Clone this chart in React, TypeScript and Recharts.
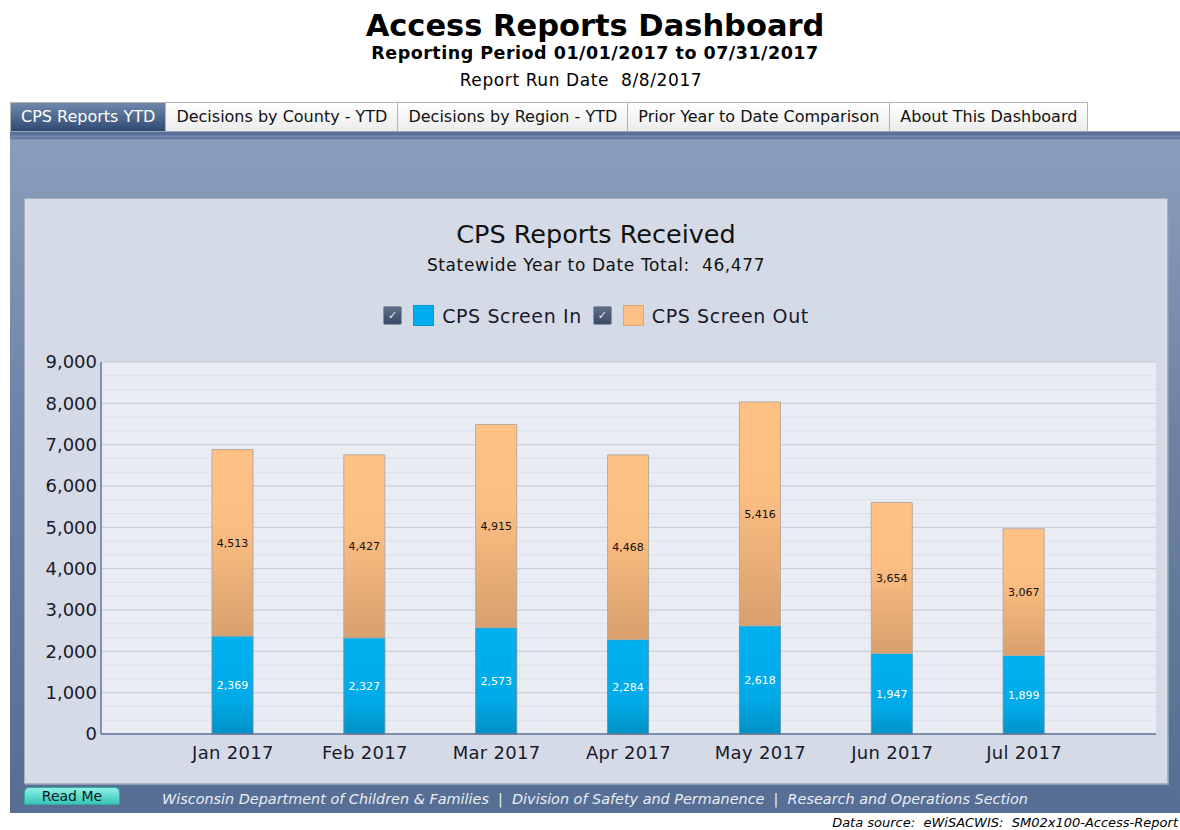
import React from "react";
import { BarChart, Bar, XAxis, YAxis, CartesianGrid, LabelList } from "recharts";

const months = ["Jan 2017", "Feb 2017", "Mar 2017", "Apr 2017", "May 2017", "Jun 2017", "Jul 2017"];
const screenIn = [2369, 2327, 2573, 2284, 2618, 1947, 1899];
const screenOut = [4513, 4427, 4915, 4468, 5416, 3654, 3067];
const yTicks = [0, 1000, 2000, 3000, 4000, 5000, 6000, 7000, 8000, 9000];
const tabs = ["CPS Reports YTD", "Decisions by County - YTD", "Decisions by Region - YTD", "Prior Year to Date Comparison", "About This Dashboard"];
const footerParts = ["Wisconsin Department of Children & Families", "Division of Safety and Permanence", "Research and Operations Section"];

const FONT = "Verdana, 'DejaVu Sans', sans-serif";

const data = months.map((month, i) => ({ month, screenIn: screenIn[i], screenOut: screenOut[i] }));
const total = [...screenIn, ...screenOut].reduce((a, b) => a + b, 0);

// thirds between the major ticks, like the original minor grid
const minorTicks = yTicks.slice(0, -1).flatMap((t) => [t + 1000 / 3, t + 2000 / 3]);

const fmt = (v: any) => Number(v).toLocaleString("en-US");

function Checkbox() {
  return (
    <span
      style={{
        display: "inline-block", width: 17, height: 17, border: "1px solid #8a93a3", borderRadius: 2,
        background: "linear-gradient(#5d6c88, #3c4a66)", color: "#e8ecf3", fontSize: 11, lineHeight: "17px",
        textAlign: "center", verticalAlign: "middle", letterSpacing: 0,
      }}
    >
      ✓
    </span>
  );
}

function Swatch({ color }: { color: string }) {
  return (
    <span
      style={{
        display: "inline-block", width: 19, height: 19, background: color, border: "1px solid rgba(0,0,0,0.12)",
        verticalAlign: "middle", margin: "0 8px 0 11px",
      }}
    />
  );
}

export default function App() {
  return (
    <div style={{ position: "absolute", left: 0, top: 0, width: 1180, height: 830, background: "#fff", fontFamily: FONT, overflow: "hidden" }}>
      <style>{`body{margin:0}`}</style>

      <div style={{ position: "absolute", top: 8, width: 1190, textAlign: "center", fontSize: 30.5, fontWeight: "bold", color: "#000" }}>
        Access Reports Dashboard
      </div>
      <div style={{ position: "absolute", top: 43, width: 1190, textAlign: "center", fontSize: 17.5, fontWeight: "bold", color: "#000", letterSpacing: 0.5 }}>
        Reporting Period 01/01/2017 to 07/31/2017
      </div>
      <div style={{ position: "absolute", top: 70, width: 1162, textAlign: "center", fontSize: 17, color: "#000", letterSpacing: 0.6 }}>
        Report Run Date&nbsp; 8/8/2017
      </div>

      {/* tabs */}
      <div style={{ position: "absolute", left: 10, top: 102, display: "flex" }}>
        {tabs.map((t, i) => (
          <div
            key={t}
            style={{
              height: 28, lineHeight: "28px", padding: "0 10px", fontSize: 16, whiteSpace: "nowrap",
              border: "1px solid #b4b4b4", borderBottom: "none", marginLeft: i === 0 ? 0 : -1,
              background: i === 0 ? "linear-gradient(#7088ac, #2f4a72)" : "linear-gradient(#ffffff, #ececec)",
              color: i === 0 ? "#fff" : "#111",
            }}
          >
            {t}
          </div>
        ))}
      </div>

      {/* outer panel */}
      <div
        style={{
          position: "absolute", left: 10, top: 131, width: 1170, height: 681,
          borderTop: "1px solid #9aa6b8",
          background: "linear-gradient(#58709a 0px, #58709a 3px, #7d92b4 4px, #5a729a 6px, #8a9dbc 8px, #8296b6 90px, #6c82a7 300px, #566e93 681px)",
        }}
      />

      {/* inner panel */}
      <div
        style={{
          position: "absolute", left: 24, top: 198, width: 1142, height: 584, background: "#d5dbe6",
          border: "1px solid #a9b1bf", boxShadow: "1px 1px 0 #8e9ab0",
        }}
      />
      <div style={{ position: "absolute", left: 24, top: 219, width: 1144, textAlign: "center", fontSize: 25.5, color: "#111" }}>
        CPS Reports Received
      </div>
      <div style={{ position: "absolute", left: 24, top: 255, width: 1144, textAlign: "center", fontSize: 17, color: "#111", letterSpacing: 0.6 }}>
        Statewide Year to Date Total:&nbsp; {fmt(total)}
      </div>

      {/* legend */}
      <div style={{ position: "absolute", left: 24, top: 303, width: 1144, textAlign: "center", fontSize: 19, color: "#1a1a2a", whiteSpace: "nowrap", letterSpacing: 0.6 }}>
        <Checkbox />
        <Swatch color="#00aeef" />
        <span style={{ verticalAlign: "middle" }}>CPS Screen In</span>
        <span style={{ display: "inline-block", width: 11 }} />
        <Checkbox />
        <Swatch color="#fdbf83" />
        <span style={{ verticalAlign: "middle" }}>CPS Screen Out</span>
      </div>

      <div style={{ position: "absolute", left: 24, top: 340 }}>
        <BarChart width={1144} height={440} data={data} margin={{ top: 22, right: 12, left: 0, bottom: 0 }}>
          <defs>
            <linearGradient id="gIn" x1="0" y1="0" x2="0" y2="1">
              <stop offset="0%" stopColor="#00b1f0" />
              <stop offset="65%" stopColor="#00aae8" />
              <stop offset="100%" stopColor="#0092c6" />
            </linearGradient>
            <linearGradient id="gOut" x1="0" y1="0" x2="0" y2="1">
              <stop offset="0%" stopColor="#ffc184" />
              <stop offset="40%" stopColor="#fdbe82" />
              <stop offset="100%" stopColor="#d8a06d" />
            </linearGradient>
          </defs>
          <CartesianGrid vertical={false} fill="#e9ecf3" stroke="#dcdfe6" horizontalValues={minorTicks} />
          <CartesianGrid vertical={false} stroke="#c6c9cf" horizontalValues={yTicks} />
          <XAxis
            dataKey="month"
            padding={{ left: 66, right: 66 }}
            height={46}
            tickLine={false}
            tickSize={0}
            tickMargin={12}
            axisLine={{ stroke: "#62749a", strokeWidth: 1.5 }}
            tick={{ fontSize: 18, fill: "#1a1a2a", fontFamily: FONT, letterSpacing: 0.3 }}
          />
          <YAxis
            width={77}
            domain={[0, 9000]}
            ticks={yTicks}
            interval={0}
            tickLine={false}
            tickSize={0}
            tickMargin={4}
            tickFormatter={fmt}
            axisLine={{ stroke: "#62749a", strokeWidth: 1.5 }}
            tick={{ fontSize: 18, fill: "#1a1a2a", fontFamily: FONT }}
          />
          <Bar dataKey="screenIn" stackId="a" barSize={41} fill="url(#gIn)" stroke="#5c97b3" strokeWidth={1} isAnimationActive={false}>
            <LabelList dataKey="screenIn" position="center" formatter={fmt} fill="#ffffff" fontSize={11} fontFamily={FONT} />
          </Bar>
          <Bar dataKey="screenOut" stackId="a" barSize={41} fill="url(#gOut)" stroke="#b7aa9d" strokeWidth={1} isAnimationActive={false}>
            <LabelList dataKey="screenOut" position="center" formatter={fmt} fill="#111111" fontSize={11} fontFamily={FONT} />
          </Bar>
        </BarChart>
      </div>

      {/* footer */}
      <div
        style={{
          position: "absolute", left: 24, top: 787, width: 96, height: 18, borderRadius: "5px 5px 0 0",
          background: "linear-gradient(#8ff0e6, #36c4b8)", border: "1px solid #3aa79f", boxSizing: "border-box",
          textAlign: "center", fontSize: 14, lineHeight: "17px", color: "#0a1a1a",
        }}
      >
        Read Me
      </div>
      <div style={{ position: "absolute", left: 10, top: 791, width: 1170, textAlign: "center", fontSize: 14.4, fontStyle: "italic", color: "#e8edf4", whiteSpace: "pre" }}>
        {footerParts.join("  |  ")}
      </div>
      <div style={{ position: "absolute", right: 2, top: 815, fontSize: 13, fontStyle: "italic", color: "#000", whiteSpace: "pre" }}>
        {"Data source:  eWiSACWIS:  SM02x100-Access-Report"}
      </div>
    </div>
  );
}
